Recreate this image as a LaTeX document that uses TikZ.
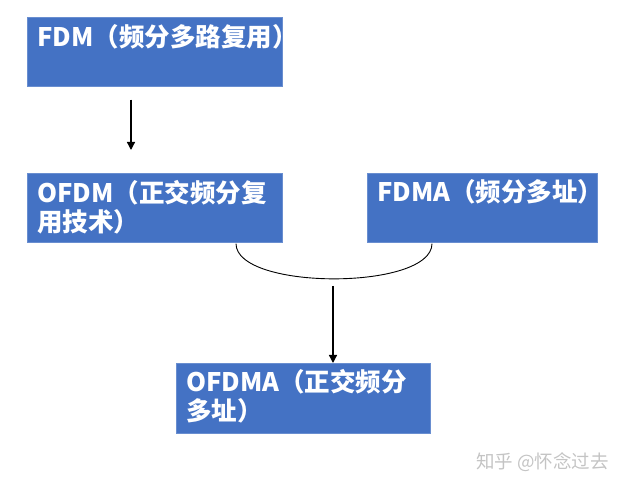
\documentclass[tikz,border=0pt]{standalone}
\usepackage{fontspec}
\setmainfont{Noto Sans CJK SC}
\usetikzlibrary{arrows.meta,calc}
\definecolor{boxblue}{HTML}{4472C4}
\definecolor{markgray}{HTML}{C4C4C4}
\tikzset{
  box/.style={draw=boxblue!80!white, line width=0.6pt, fill=boxblue, inner sep=0pt, anchor=north west},
  boxtext/.style={text=white, font=\fontsize{25.5}{29}\selectfont\bfseries, align=left, inner sep=0pt, anchor=base west},
  arrowline/.style={line width=1.3pt, -{Triangle[length=8pt,width=8pt]}},
  joinline/.style={line width=0.9pt},
}
\begin{document}
\begin{tikzpicture}[x=1pt,y=-1pt]
\useasboundingbox (0,0) rectangle (625,486);
% boxes
\node[box, minimum width=255pt, minimum height=69pt] (fdm)   at (27,17)  {};
\node[box, minimum width=255pt, minimum height=69pt] (ofdm)  at (27,173) {};
\node[box, minimum width=230pt, minimum height=69pt] (fdma)  at (367,173) {};
\node[box, minimum width=254pt, minimum height=70pt] (ofdma) at (176,363) {};
% box captions (a multi-line caption sits on the baseline of its last line)
\node[boxtext] (fdmtext)   at ($(fdm.north west)+(10,30)$)   {FDM（频分多路复用）};
\node[boxtext] (ofdmtext)  at ($(ofdm.north west)+(10,59)$)  {OFDM（正交频分复\\用技术）};
\node[boxtext] (fdmatext)  at ($(fdma.north west)+(10,29)$)  {FDMA（频分多址）};
\node[boxtext] (ofdmatext) at ($(ofdma.north west)+(10,58)$) {OFDMA（正交频分\\多址）};
% FDM leads to OFDM
\coordinate (a1) at ($(fdm.south west)+(104,13)$);
\coordinate (a2) at ($(ofdm.north west)+(104,-23)$);
\draw[arrowline] (a1) -- (a2);
% OFDM and FDMA combined
\coordinate (j1) at ($(ofdm.south west)+(209,1)$);
\coordinate (j2) at ($(fdma.south west)+(65,1)$);
\draw[joinline] (j1) .. controls ($(j1)+(0,47)$) and ($(j2)+(0,47)$) .. (j2);
\coordinate (a3) at ($(ofdma.north west)+(157,-77)$);
\draw[arrowline] (a3) -- (ofdma.north west -| a3);
% site mark
\node[text=markgray, font=\fontsize{18.5}{21}\selectfont, anchor=east, inner sep=0pt] (mark) at (609,462) {知乎 @怀念过去};
\end{tikzpicture}
\end{document}
